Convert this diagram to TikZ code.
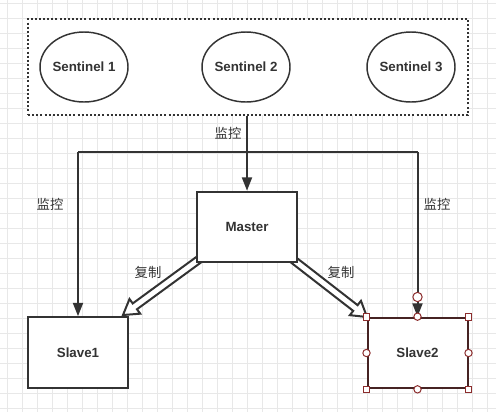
\documentclass[tikz,border=0pt]{standalone}
\usepackage{fontspec}
\setmainfont{Liberation Sans}
\newfontfamily\cjk{Noto Sans CJK SC}
\usetikzlibrary{arrows.meta,shapes.geometric,calc}

\definecolor{ink}{RGB}{51,51,51}
\definecolor{gridgray}{RGB}{232,232,232}
\definecolor{handle}{RGB}{140,45,45}
\definecolor{selink}{RGB}{70,35,35}

\tikzset{every picture/.style={line width=0.75pt}}
\tikzset{
  gridline/.style={draw=gridgray,line width=0.6pt},
  sentinelbox/.style={draw=ink,line width=1.5pt,dash pattern=on 1.5pt off 1.6pt,fill=white,minimum width=330pt,minimum height=72pt},
  sentinel/.style={ellipse,draw=ink,line width=1.1pt,fill=white,inner xsep=-2pt,inner ysep=0pt,minimum width=66pt,minimum height=52.5pt,font=\bfseries\fontsize{10}{12}\selectfont,text=ink},
  redisbox/.style={rectangle,draw=ink,line width=1.5pt,fill=white,minimum width=75pt,minimum height=53pt,font=\bfseries\fontsize{10}{12}\selectfont,text=ink},
  monitor/.style={draw=ink,line width=1.5pt},
  monarrow/.style={monitor,-{Triangle[length=10pt,width=7.5pt]}},
  cnlabel/.style={font=\cjk\fontsize{10}{12}\selectfont,text=ink},
  sqhandle/.style={rectangle,draw=handle,fill=white,line width=0.75pt,minimum size=5pt,inner sep=0pt},
  cirhandle/.style={circle,draw=handle,fill=white,line width=0.75pt,minimum size=5.5pt,inner sep=0pt}
}

% hollow copy arrow from #1 to #2
\newcommand{\copyarrow}[2]{%
  \coordinate (hb) at ($(#2)!11pt!(#1)$);
  \draw[ink,line width=1.5pt,fill=white,line join=miter]
    ($(#1)!2.7pt!90:(#2)$) -- ($(hb)!2.7pt!-90:(#1)$) -- ($(hb)!6.8pt!-90:(#1)$) -- (#2)
    -- ($(hb)!6.8pt!90:(#1)$) -- ($(hb)!2.7pt!90:(#1)$) -- ($(#1)!2.7pt!-90:(#2)$) -- cycle;
}

\begin{document}
\begin{tikzpicture}[x=0.75pt,y=0.75pt,yscale=-1,xscale=1]
	\useasboundingbox (0,0) rectangle (496,412);
	\fill[white] (0,0) rectangle (496,412);

	% background grid
	\foreach \gx in {7,22,...,496} \draw[gridline] (\gx,0) -- (\gx,412);
	\foreach \gy in {3,18,...,412} \draw[gridline] (0,\gy) -- (496,\gy);

	%Shape: Rectangle (dotted group)
	\node[sentinelbox] (sentinels) at (248,67) {};
	%Shape: Ellipse
	\node[sentinel] (sent1) at (84,67) {Sentinel 1};
	\node[sentinel] (sent2) at (246,67) {Sentinel 2};
	\node[sentinel] (sent3) at (411,67) {Sentinel 3};

	%Copy arrows (under the boxes)
	\coordinate (cpL) at (201,258);
	\coordinate (cpR) at (291,258);
	\coordinate (tipL) at (123,315);
	\coordinate (tipR) at (367,317);
	\copyarrow{cpL}{tipL}
	\copyarrow{cpR}{tipR}

	%Shape: Rectangle
	\node[redisbox] (master) at (247,227) {Master};
	\node[redisbox] (slave1) at (78,352.5) {Slave1};
	\node[redisbox,draw=selink] (slave2) at (417.5,353) {Slave2};

	%Straight Lines (monitoring)
	\coordinate (busL) at (78,152);
	\coordinate (busR) at (417.5,152);
	\draw[monarrow] (sentinels.south -| master.north) -- (master.north);
	\draw[monitor] (busL) -- (busR);
	\draw[monarrow] (busL) -- (slave1.north);
	\draw[monarrow] (busR) -- (slave2.north);

	% selection handles on Slave2
	\foreach \corner in {north west,north east,south west,south east}
	  \node[sqhandle] at (slave2.\corner) {};
	\foreach \side in {north,south,east,west}
	  \node[cirhandle] at (slave2.\side) {};
	\node[cirhandle,minimum size=7pt] (endhandle) at (417.5,297) {};

	% Text Node
	\node[cnlabel] (lblmon) at (228,133) {监控};
	\node[cnlabel] (lblmonL) at (50,204) {监控};
	\node[cnlabel] (lblmonR) at (437,204) {监控};
	\node[cnlabel] (lblcpL) at (148,272) {复制};
	\node[cnlabel] (lblcpR) at (341,272) {复制};

\end{tikzpicture}
\end{document}
